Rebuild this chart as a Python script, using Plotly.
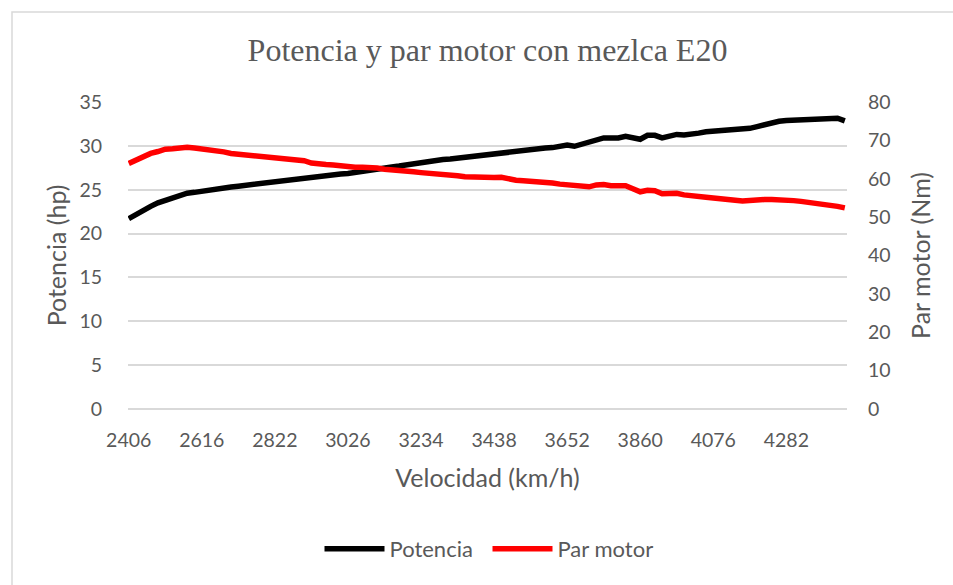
import plotly.graph_objects as go

# Engine speed categories (rpm) - x axis
rpm = [
    2406, 2427, 2448, 2469, 2490, 2511, 2532, 2553, 2574, 2595,
    2616, 2637, 2657, 2678, 2698, 2719, 2740, 2760, 2781, 2801,
    2822, 2842, 2863, 2883, 2904, 2924, 2944, 2965, 2985, 3006,
    3026, 3047, 3068, 3088, 3109, 3130, 3151, 3172, 3192, 3213,
    3234, 3254, 3275, 3295, 3316, 3336, 3356, 3377, 3397, 3418,
    3438, 3459, 3481, 3502, 3524, 3545, 3566, 3588, 3609, 3631,
    3652, 3673, 3694, 3714, 3735, 3756, 3777, 3798, 3818, 3839,
    3860, 3882, 3903, 3925, 3946, 3968, 3990, 4011, 4033, 4054,
    4076, 4097, 4117, 4138, 4158, 4179, 4200, 4220, 4241, 4261,
    4282, 4303, 4324, 4344, 4365, 4386, 4406, 4427, 4448,
]

# Power (hp) - left axis
potencia = [
    21.7, 22.2, 22.7, 23.1, 23.5, 23.8, 24.1, 24.35, 24.6, 24.7,
    24.85, 25.0, 25.1, 25.2, 25.3, 25.4, 25.5, 25.6, 25.75, 25.85,
    25.95, 26.05, 26.2, 26.35, 26.45, 26.5, 26.6, 26.7, 26.8, 26.8,
    26.85, 27.0, 27.1, 27.25, 27.4, 27.5, 27.6, 27.7, 27.85, 28.0,
    28.1, 28.2, 28.35, 28.45, 28.5, 28.6, 28.7, 28.8, 28.9, 29.0,
    29.2, 29.3, 29.35, 29.4, 29.5, 29.6, 29.65, 29.75, 29.8, 29.95,
    30.1, 29.95, 30.2, 30.4, 30.7, 30.9, 30.9, 30.9, 31.1, 31.0,
    30.75, 31.2, 31.2, 30.9, 31.1, 31.3, 31.25, 31.3, 31.45, 31.6,
    31.65, 31.7, 31.72, 31.75, 31.8, 32.0, 32.2, 32.45, 32.65, 32.8,
    32.9, 32.95, 33.0, 33.0, 33.05, 33.1, 33.1, 33.15, 32.85,
]

# Torque (Nm) - right axis
par_motor = [
    64.0, 65.0, 66.0, 66.6, 67.1, 67.7, 67.8, 68.0, 68.2, 68.0,
    67.8, 67.5, 67.2, 67.0, 66.6, 66.4, 66.2, 66.1, 66.0, 65.8,
    65.5, 65.2, 65.1, 65.0, 64.7, 64.1, 63.8, 63.7, 63.6, 63.3,
    63.0, 63.0, 63.0, 63.0, 62.8, 62.5, 62.4, 62.3, 62.0, 61.8,
    61.6, 61.5, 61.3, 61.1, 61.0, 60.8, 60.5, 60.4, 60.2, 60.1,
    60.3, 60.4, 59.9, 59.6, 59.5, 59.4, 59.3, 59.2, 58.9, 58.6,
    58.5, 58.4, 58.2, 57.9, 58.4, 58.5, 58.2, 58.2, 58.2, 57.4,
    56.6, 57.0, 56.9, 56.1, 56.1, 56.2, 55.8, 55.5, 55.4, 55.2,
    55.0, 54.9, 54.7, 54.4, 54.2, 54.4, 54.6, 54.6, 54.6, 54.6,
    54.5, 54.3, 54.1, 53.9, 53.6, 53.4, 53.1, 52.8, 52.4,
]

x_tick_labels = [2406, 2616, 2822, 3026, 3234, 3438, 3652, 3860, 4076, 4282]

x_cat = [str(v) for v in rpm]
tick_cat = [str(v) for v in x_tick_labels]

GREY = "#595959"
FONT = "Lato"

fig = go.Figure()
fig.add_trace(go.Scatter(
    x=x_cat, y=potencia, name="Potencia", mode="lines",
    line=dict(color="#000000", width=5.5), yaxis="y",
))
fig.add_trace(go.Scatter(
    x=x_cat, y=par_motor, name="Par motor", mode="lines",
    line=dict(color="#ff0000", width=5.5), yaxis="y2",
))

# plot area pixel geometry
L, R, T, B = 128, 847, 102, 409
W, H = 953, 585

def px_x(p):
    return (p - L) / (R - L)

def px_y(p):
    return (B - p) / (B - T)

fig.update_layout(
    width=W, height=H,
    margin=dict(l=L, r=W - R, t=T, b=H - B),
    paper_bgcolor="white", plot_bgcolor="white",
    font=dict(family=FONT, color=GREY, size=18),
    title=dict(
        text="Potencia y par motor con mezlca E20",
        font=dict(family="Liberation Serif", size=32, color=GREY),
        x=0.5, xref="paper", xanchor="center",
        y=1 - 50 / H, yref="container", yanchor="middle",
    ),
    xaxis=dict(
        type="category",
        range=[-0.1, len(rpm) - 0.7],
        tickmode="array", tickvals=tick_cat, ticktext=tick_cat,
        showgrid=False, zeroline=False, showline=False, ticks="",
        tickfont=dict(family=FONT, size=19.5, color=GREY),
        ticklabelstandoff=17,
        title=dict(text="Velocidad (km/h)", font=dict(family=FONT, size=25, color=GREY), standoff=19),
    ),
    yaxis=dict(
        range=[0, 35], dtick=5, tick0=0,
        showgrid=True, gridcolor="#d9d9d9", gridwidth=1.5,
        zeroline=True, zerolinecolor="#d9d9d9", zerolinewidth=1.5,
        showline=False, ticks="",
        tickfont=dict(family=FONT, size=19.5, color=GREY),
        ticklabelstandoff=25,
        title=dict(text="Potencia (hp)", font=dict(family=FONT, size=25, color=GREY), standoff=5),
    ),
    yaxis2=dict(
        range=[0, 80], dtick=10, tick0=0,
        overlaying="y", side="right",
        showgrid=False, zeroline=False, showline=False, ticks="",
        tickfont=dict(family=FONT, size=19.5, color=GREY),
        ticklabelstandoff=20,
        title=dict(text="Par motor (Nm)", font=dict(family=FONT, size=25, color=GREY), standoff=22),
    ),
    showlegend=True,
    legend=dict(
        orientation="h", x=0.5, xanchor="center", xref="paper",
        y=px_y(549), yanchor="middle", yref="paper",
        font=dict(family=FONT, size=22, color=GREY),
        bgcolor="rgba(0,0,0,0)", itemwidth=60,
        entrywidth=93, entrywidthmode="pixels",
    ),
    shapes=[
        dict(type="rect", xref="paper", yref="paper",
             x0=px_x(12), x1=px_x(990), y0=px_y(620), y1=px_y(12),
             line=dict(color="#d9d9d9", width=1.5), fillcolor="rgba(0,0,0,0)", layer="below"),
    ],
)

fig.write_html(
    "out.html",
    config={"displayModeBar": False},
    post_script="document.body.style.margin='0px';document.body.style.overflow='hidden';",
)
